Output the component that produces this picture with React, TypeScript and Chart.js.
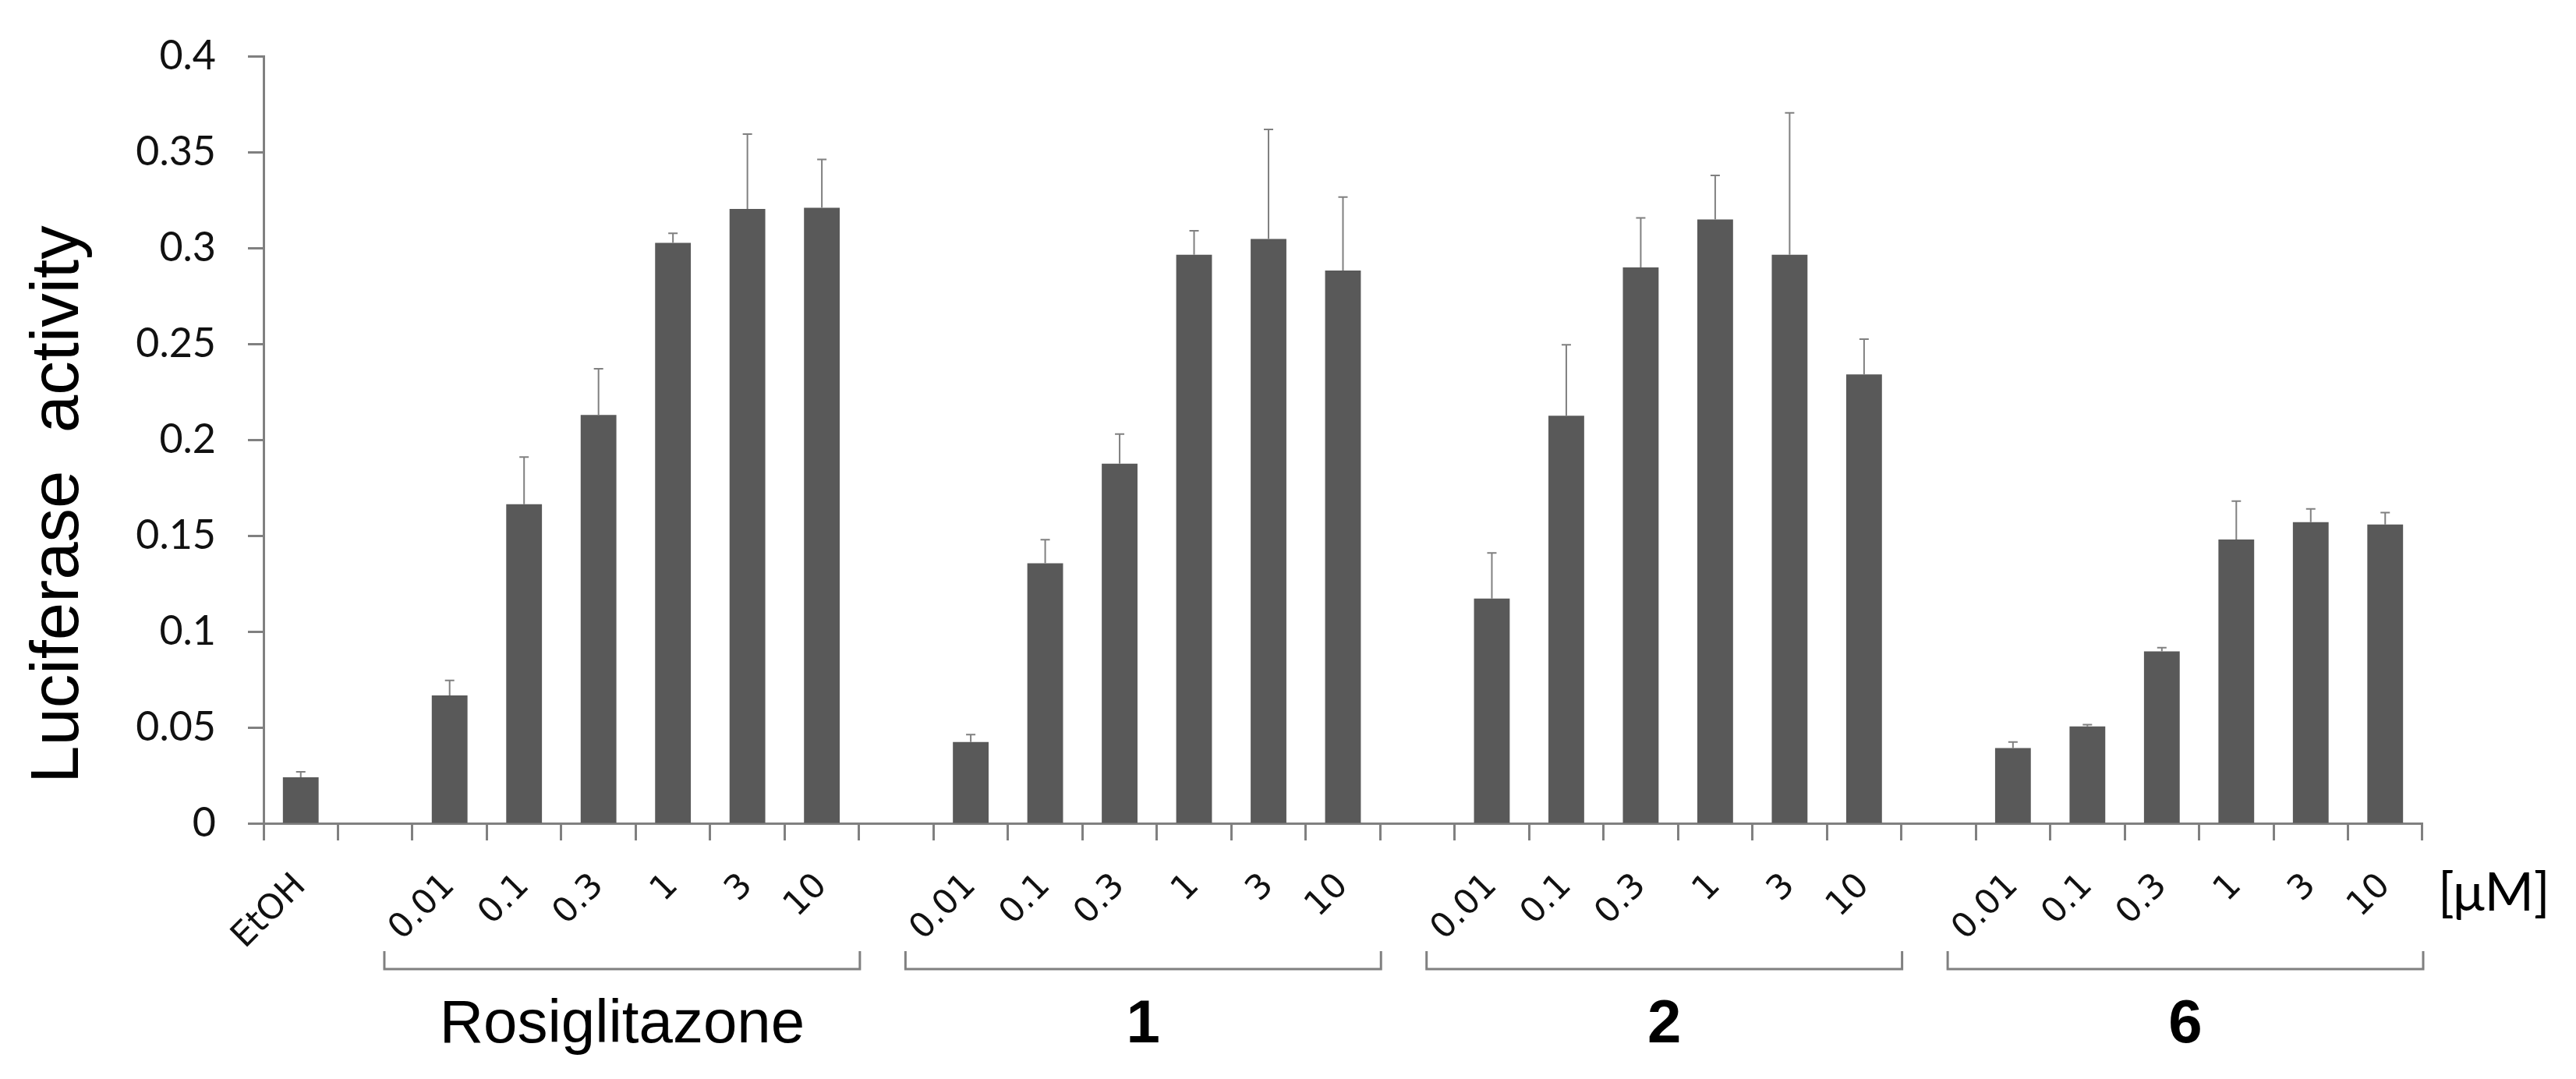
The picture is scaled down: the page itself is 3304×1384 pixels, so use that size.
import React, { useEffect, useRef } from "react";
import { Chart, registerables } from "chart.js";

Chart.register(...registerables);

// ---- data ----
const concentrationLabels = ["0.01", "0.1", "0.3", "1", "3", "10"];
const groupNames = ["Rosiglitazone", "1", "2", "6"];
const groupBold = [false, true, true, true];
const controlLabel = "EtOH";
const controlMean = 0.024;
const controlSd = 0.0028;
const rosiglitazoneMean = [0.0667, 0.1664, 0.213, 0.3027, 0.3204, 0.321];
const rosiglitazoneSd = [0.0078, 0.0246, 0.024, 0.005, 0.039, 0.0252];
const compound1Mean = [0.0424, 0.1356, 0.1875, 0.2965, 0.3047, 0.2883];
const compound1Sd = [0.0038, 0.0123, 0.0155, 0.0125, 0.0572, 0.0383];
const compound2Mean = [0.1172, 0.2125, 0.2899, 0.3149, 0.2965, 0.2341];
const compound2Sd = [0.0238, 0.037, 0.0258, 0.023, 0.074, 0.0184];
const compound6Mean = [0.0392, 0.0505, 0.0897, 0.148, 0.157, 0.1558];
const compound6Sd = [0.0032, 0.0009, 0.0019, 0.02, 0.007, 0.0062];
const yTickLabels = ["0", "0.05", "0.1", "0.15", "0.2", "0.25", "0.3", "0.35", "0.4"];
const yTitle = "Luciferase  activity";
const unitLabel = "[\u03bcM]";

const groupMeans = [rosiglitazoneMean, compound1Mean, compound2Mean, compound6Mean];
const groupSds = [rosiglitazoneSd, compound1Sd, compound2Sd, compound6Sd];

// build the category table
const labels: string[] = [controlLabel];
const means: (number | null)[] = [controlMean];
const sds: (number | null)[] = [controlSd];
const groupStart: number[] = [];
groupMeans.forEach((gm, g) => {
  labels.push("");
  means.push(null);
  sds.push(null);
  groupStart.push(labels.length);
  gm.forEach((m, k) => {
    labels.push(concentrationLabels[k]);
    means.push(m);
    sds.push(groupSds[g][k]);
  });
});

const AXIS_GRAY = "#808080";

const annotationPlugin = {
  id: "annotations",
  afterDatasetsDraw(chart: any) {
    const { ctx, scales } = chart;
    const x = scales.x;
    const y = scales.y;
    ctx.save();
    ctx.strokeStyle = AXIS_GRAY;
    ctx.lineWidth = 2;
    means.forEach((m, i) => {
      if (m == null || sds[i] == null) return;
      const px = x.getPixelForValue(i);
      const top = y.getPixelForValue(m);
      const e = y.getPixelForValue(m + (sds[i] as number));
      ctx.beginPath();
      ctx.moveTo(px, top);
      ctx.lineTo(px, e);
      ctx.moveTo(px - 6, e);
      ctx.lineTo(px + 6, e);
      ctx.stroke();
    });
    ctx.restore();
  },
  afterDraw(chart: any) {
    const { ctx, scales, chartArea } = chart;
    const x = scales.x;
    const bottom = chartArea.bottom;
    const cat = x.getPixelForValue(1) - x.getPixelForValue(0);
    ctx.save();
    // brackets + group names
    groupStart.forEach((s, g) => {
      const left = x.getPixelForValue(s) - cat / 2 - 36;
      const right = x.getPixelForValue(s + 5) + cat / 2 + 1;
      const yTop = bottom + 164;
      const yLine = bottom + 187;
      ctx.strokeStyle = AXIS_GRAY;
      ctx.lineWidth = 3;
      ctx.beginPath();
      ctx.moveTo(left, yTop);
      ctx.lineTo(left, yLine);
      ctx.lineTo(right, yLine);
      ctx.lineTo(right, yTop);
      ctx.stroke();
      ctx.fillStyle = "#000";
      ctx.font = (groupBold[g] ? "bold " : "") + "78px 'Liberation Sans', Arial, sans-serif";
      ctx.textAlign = "center";
      ctx.textBaseline = "alphabetic";
      ctx.fillText(groupNames[g], (left + right) / 2, bottom + 281);
    });
    // unit label
    ctx.fillStyle = "#000";
    ctx.font = "68px Lato, 'Open Sans', sans-serif";
    ctx.textAlign = "left";
    ctx.textBaseline = "alphabetic";
    ctx.fillText(unitLabel, x.right + 20, bottom + 112);
    // y title
    ctx.translate(chartArea.left - 238, (chartArea.top + chartArea.bottom) / 2 + 83);
    ctx.rotate(-Math.PI / 2);
    ctx.font = "87px 'Liberation Sans', Arial, sans-serif";
    ctx.textAlign = "center";
    ctx.textBaseline = "alphabetic";
    ctx.fillText(yTitle, 0, 0);
    ctx.restore();
  },
};

export default function App() {
  const canvasRef = useRef<HTMLCanvasElement | null>(null);

  useEffect(() => {
    const canvas = canvasRef.current;
    if (!canvas) return;
    const chart = new Chart(canvas, {
      type: "bar",
      data: {
        labels,
        datasets: [
          {
            data: means as any,
            backgroundColor: "#595959",
            borderWidth: 0,
            barPercentage: 0.48,
            categoryPercentage: 1,
          },
        ],
      },
      options: {
        responsive: false,
        animation: false,
        devicePixelRatio: 1,
        layout: { padding: { left: 0, top: 57, right: 197, bottom: 0 } },
        plugins: {
          legend: { display: false },
          tooltip: { enabled: false },
          title: { display: false },
        },
        scales: {
          x: {
            type: "category",
            grid: {
              display: true,
              drawOnChartArea: false,
              drawTicks: true,
              tickLength: 22,
              tickWidth: 3,
              tickColor: AXIS_GRAY,
              offset: true,
            },
            border: { display: true, color: AXIS_GRAY, width: 3 },
            ticks: {
              autoSkip: false,
              maxRotation: 45,
              minRotation: 45,
              padding: 33,
              color: "#111",
              font: { family: "'DejaVu Sans', sans-serif", size: 44 },
            },
            afterFit: (scale: any) => {
              scale.height = 328;
            },
          },
          y: {
            min: 0,
            max: 0.4,
            grid: {
              display: true,
              drawOnChartArea: false,
              drawTicks: true,
              tickLength: 20,
              tickWidth: 3,
              tickColor: AXIS_GRAY,
            },
            border: { display: true, color: AXIS_GRAY, width: 3 },
            ticks: {
              stepSize: 0.05,
              padding: 41,
              color: "#111",
              font: { family: "Lato, 'Open Sans', sans-serif", size: 52 },
              callback: (value: any) => yTickLabels[Math.round(Number(value) / 0.05)] ?? "",
            },
            afterFit: (scale: any) => {
              scale.width = 338;
            },
          },
        },
      },
      plugins: [annotationPlugin],
    });
    return () => chart.destroy();
  }, []);

  return (
    <div style={{ position: "absolute", left: 0, top: 0, width: 3304, height: 1384, background: "#fff" }}>
      <canvas ref={canvasRef} width={3304} height={1384} style={{ display: "block" }} />
    </div>
  );
}
